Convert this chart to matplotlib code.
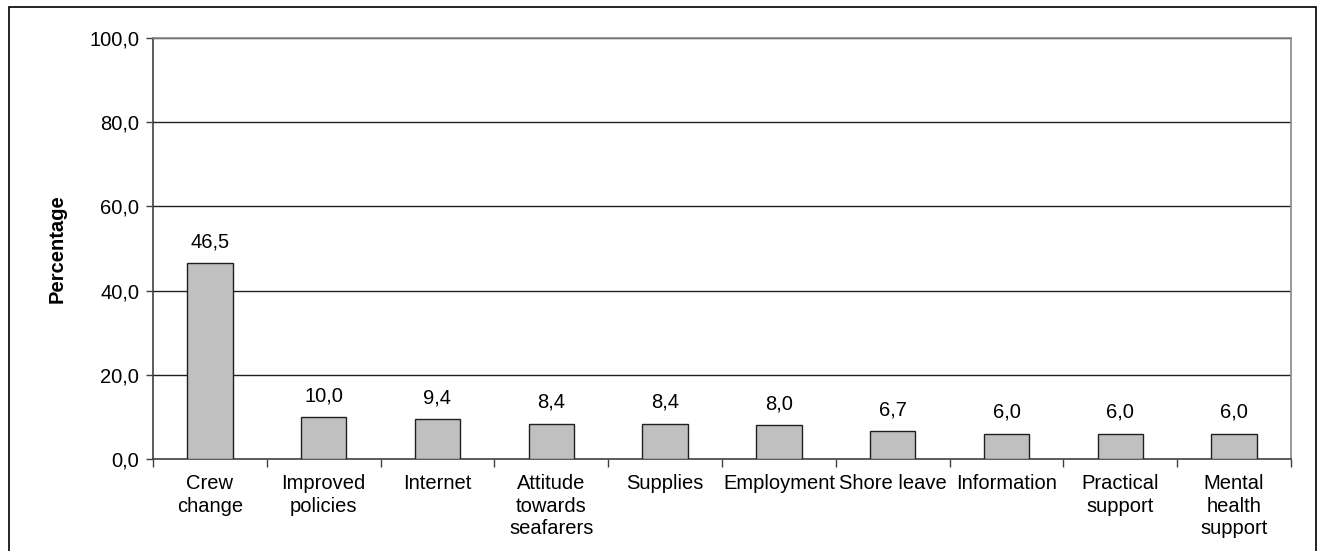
import matplotlib
matplotlib.use("Agg")
import matplotlib.pyplot as plt
from matplotlib.patches import Rectangle

categories = ["Crew\nchange", "Improved\npolicies", "Internet", "Attitude\ntowards\nseafarers",
              "Supplies", "Employment", "Shore leave", "Information", "Practical\nsupport",
              "Mental\nhealth\nsupport"]
values = [46.5, 10.0, 9.4, 8.4, 8.4, 8.0, 6.7, 6.0, 6.0, 6.0]
yticks = [0, 20, 40, 60, 80, 100]

plt.rcParams['font.family'] = ['Liberation Sans', 'DejaVu Sans']
FS = 14.5

W, H = 1322, 551
fig = plt.figure(figsize=(W / 100, H / 100), dpi=100)
ax = fig.add_axes([153 / W, 1 - 459 / H, (1291 - 153) / W, (459 - 38) / H])

x = list(range(len(values)))
ax.bar(x, values, width=0.4, color="#C0C0C0", edgecolor="#202020", linewidth=1.0, zorder=3)
for xi, v in zip(x, values):
    ax.text(xi, v + 2.8, f"{v:.1f}".replace(".", ","), ha="center", va="bottom", fontsize=FS)

ax.set_xlim(-0.5, len(values) - 0.5)
ax.set_ylim(0, 100)
ax.set_yticks(yticks)
ax.set_yticklabels([f"{t:.1f}".replace(".", ",") for t in yticks], fontsize=FS)
for t in yticks[1:]:
    ax.axhline(t, color="#202020", linewidth=1.0, zorder=1)

ax.set_xticks(x)
ax.set_xticklabels(categories, fontsize=FS, linespacing=1.22, va="top")
ax.tick_params(axis="x", length=0, pad=11)
ax.set_xticks([i - 0.5 for i in range(len(values) + 1)], minor=True)
ax.tick_params(axis="x", which="minor", length=6, width=1, color="#404040")
ax.tick_params(axis="y", length=5, width=1, color="#404040", pad=5)

ax.spines["left"].set_color("#404040")
ax.spines["bottom"].set_color("#404040")
ax.spines["top"].set_color("#888888")
ax.spines["right"].set_color("#888888")
for s in ax.spines.values():
    s.set_linewidth(1.2)

ax.set_ylabel("Percentage", fontsize=FS, fontweight="bold", labelpad=16)

fig.patches.append(Rectangle((9 / W, -0.05), (1316 - 9) / W, 1.05 - 7 / H,
                             transform=fig.transFigure, fill=False,
                             edgecolor="black", linewidth=1.2))

fig.savefig("out.png", dpi=100)
